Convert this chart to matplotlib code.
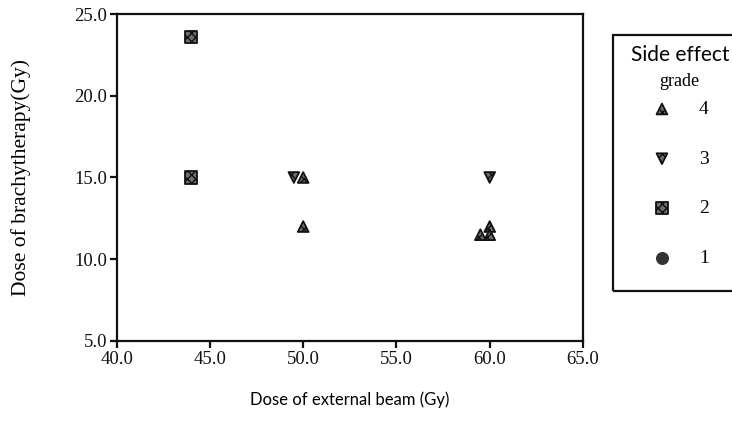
import matplotlib
matplotlib.use("Agg")
import matplotlib.pyplot as plt
from matplotlib.patches import Rectangle

# external beam dose (Gy), brachytherapy dose (Gy), per side effect grade
g4_ext = [50.0, 50.0, 60.0, 60.0, 59.5]
g4_bra = [15.0, 12.0, 12.0, 11.5, 11.5]
g3_ext = [49.5, 60.0]
g3_bra = [15.0, 15.0]
g2_ext = [44.0, 44.0]
g2_bra = [23.6, 15.0]
g1_ext = []
g1_bra = []

xticks = [40.0, 45.0, 50.0, 55.0, 60.0, 65.0]
yticks = [5.0, 10.0, 15.0, 20.0, 25.0]
grades = ["4", "3", "2", "1"]

serif = "Liberation Serif"
sans = "Lato"

fig = plt.figure(figsize=(7.32, 4.38), dpi=100)
ax = fig.add_axes([0.1594, 0.2215, 0.637, 0.7465])

style = dict(facecolor="#6e6e6e", edgecolor="#111111", linewidths=1.3, hatch="xxxx", zorder=3)
h4 = ax.scatter(g4_ext, g4_bra, marker="^", s=60, **style)
h3 = ax.scatter(g3_ext, g3_bra, marker="v", s=60, **style)
h2 = ax.scatter(g2_ext, g2_bra, marker="s", s=75, **style)
h1 = ax.scatter(g1_ext, g1_bra, marker="o", s=70, color="#333333")

ax.set_xlim(40, 65)
ax.set_ylim(5, 25)
ax.set_xticks(xticks)
ax.set_yticks(yticks)
ax.set_xticklabels(["%.1f" % v for v in xticks], fontfamily=serif, fontsize=13.5)
ax.set_yticklabels(["%.1f" % v for v in yticks], fontfamily=serif, fontsize=13.5)
ax.tick_params(direction="out", length=5, width=1.6, pad=2, colors="#111111")
for s in ax.spines.values():
    s.set_linewidth(1.6)
    s.set_color("#111111")

ax.set_ylabel("Dose of brachytherapy(Gy)", fontfamily=serif, fontsize=15.5, labelpad=31)
fig.text(0.478, 0.087, "Dose of external beam (Gy)", fontfamily=sans, fontsize=12,
         ha="center", va="center")

# legend box, runs off the right edge like the original
fig.patches.append(Rectangle((613 / 732, 1 - 291 / 438), 0.3, (291 - 35) / 438,
                             transform=fig.transFigure, fill=False, lw=1.6,
                             edgecolor="#111111"))
fig.text(680 / 732, 1 - 55 / 438, "Side effect", fontfamily=sans, fontsize=15,
         ha="center", va="center")
fig.text(679 / 732, 1 - 82 / 438, "grade", fontfamily=serif, fontsize=13,
         ha="center", va="center")

leg = fig.legend([h4, h3, h2, h1], grades, loc="upper left",
                 bbox_to_anchor=(625 / 732, 1 - 83 / 438),
                 frameon=False, labelspacing=1.65, handletextpad=0.9, scatterpoints=1,
                 prop={"family": serif, "size": 14})
# the empty grade 1 handle needs its colour set by hand
leg.legend_handles[3].set_color("#333333")

fig.savefig("out.png", dpi=100)
